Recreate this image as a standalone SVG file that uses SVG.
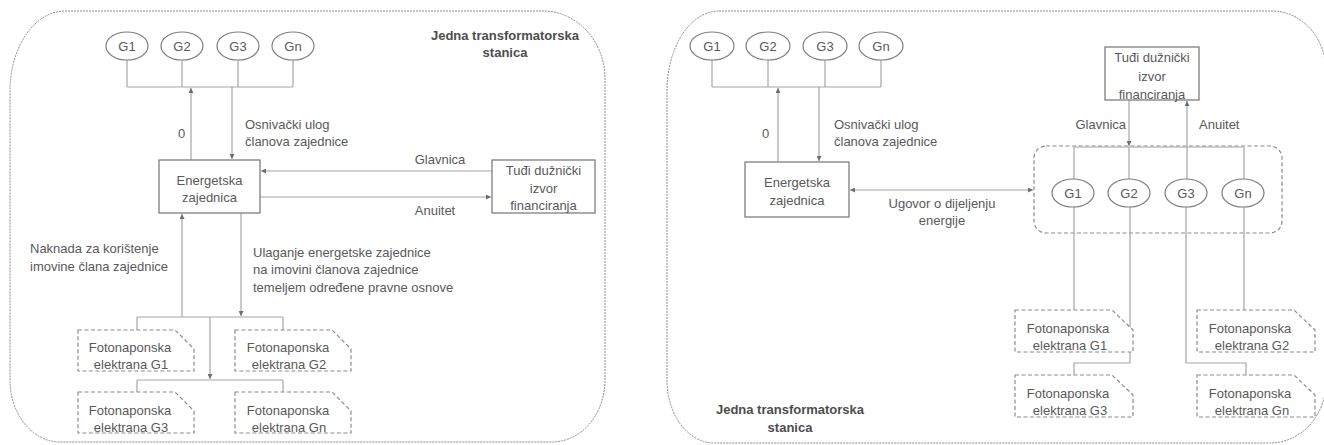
<svg xmlns="http://www.w3.org/2000/svg" width="1324" height="445" viewBox="0 0 1324 445">
  <defs>
    <marker id="arr" viewBox="0 0 5 5" refX="5" refY="2.5" markerWidth="5" markerHeight="5" markerUnits="userSpaceOnUse" orient="auto-start-reverse">
      <path d="M0,0 L5,2.5 L0,5 Z" fill="#6e6e6e"/>
    </marker>
    <style>
      .frame { fill: none; stroke: #8c8c8c; stroke-width: 1; stroke-dasharray: 2 1; }
      .ln { fill: none; stroke: #a6a6a6; stroke-width: 1.2; }
      .ar { fill: none; stroke: #a6a6a6; stroke-width: 1.2; marker-end: url(#arr); }
      .box { fill: #ffffff; stroke: #7f7f7f; stroke-width: 1.3; }
      .ell { fill: #ffffff; stroke: #7f7f7f; stroke-width: 1.2; }
      .fe { fill: #ffffff; stroke: #8c8c8c; stroke-width: 1.2; stroke-dasharray: 4 2.5; }
      .grp { fill: none; stroke: #8c8c8c; stroke-width: 1.2; stroke-dasharray: 4 2.5; }
      text { font-family: "Liberation Sans", Arial, sans-serif; font-size: 13px; fill: #595959; }
      .c { text-anchor: middle; }
      .e { text-anchor: end; }
      .title { font-weight: bold; fill: #4d4d4d; }
    </style>
  </defs>

  <!-- ===== Left panel ===== -->
  <g id="left-frame">
    <path class="frame" d="M65,11 H543 A62,68 0 0 1 605,79 V380 A53,62 0 0 1 552,442 H60 A50,62 0 0 1 10,380 V91 A55,80 0 0 1 65,11 Z"/>
    <text class="c title" x="505" y="40">Jedna transformatorska</text>
    <text class="c title" x="505" y="57">stanica</text>
  </g>

  <g id="left-connectors">
    <path class="ln" d="M127,60 V87 M182,60 V87 M238,60 V87 M293,60 V87 M127,87 H293"/>
    <path class="ar" d="M191,160 V88"/>
    <path class="ar" d="M232,87 V159"/>
    <path class="ar" d="M492,171 H261"/>
    <path class="ar" d="M260,197 H491"/>
    <path class="ar" d="M182,317 V214"/>
    <path class="ar" d="M241,213 V316"/>
    <path class="ln" d="M137,317 H283 M137,317 V330 M283,317 V330"/>
    <path class="ar" d="M210,317 V379"/>
    <path class="ln" d="M137,380 H283 M137,380 V393 M283,380 V393"/>
  </g>

  <g id="left-labels">
    <text x="178" y="138">0</text>
    <text x="245" y="129">Osnivački ulog</text>
    <text x="245" y="146">članova zajednice</text>
    <text class="c" x="440" y="164">Glavnica</text>
    <text class="c" x="435" y="215">Anuitet</text>
    <text x="30" y="253">Naknada za korištenje</text>
    <text x="30" y="271">imovine člana zajednice</text>
    <text x="253" y="257">Ulaganje energetske zajednice</text>
    <text x="253" y="274">na imovini članova zajednice</text>
    <text x="253" y="292">temeljem određene pravne osnove</text>
  </g>

  <g id="left-g1"><ellipse class="ell" cx="127" cy="46" rx="21" ry="14"/><text class="c" x="127" y="51">G1</text></g>
  <g id="left-g2"><ellipse class="ell" cx="182" cy="46" rx="21" ry="14"/><text class="c" x="182" y="51">G2</text></g>
  <g id="left-g3"><ellipse class="ell" cx="238" cy="46" rx="21" ry="14"/><text class="c" x="238" y="51">G3</text></g>
  <g id="left-gn"><ellipse class="ell" cx="293" cy="46" rx="21" ry="14"/><text class="c" x="293" y="51">Gn</text></g>

  <g id="left-ez">
    <rect class="box" x="159" y="160" width="101" height="53"/>
    <text class="c" x="209.5" y="185">Energetska</text>
    <text class="c" x="209.5" y="202">zajednica</text>
  </g>

  <g id="left-debt">
    <rect class="box" x="492" y="160" width="103" height="53"/>
    <text class="c" x="543.5" y="175">Tuđi dužnički</text>
    <text class="c" x="543.5" y="193">izvor</text>
    <text class="c" x="543.5" y="210">financiranja</text>
  </g>

  <g id="left-fe-g1">
    <path class="fe" d="M78,330 H175 L194,349 V371 H78 Z"/>
    <text class="c" x="130" y="352">Fotonaponska</text>
    <text class="c" x="131" y="369">elektrana G1</text>
  </g>
  <g id="left-fe-g2">
    <path class="fe" d="M235,330 H332 L351,349 V371 H235 Z"/>
    <text class="c" x="288" y="352">Fotonaponska</text>
    <text class="c" x="289" y="369">elektrana G2</text>
  </g>
  <g id="left-fe-g3">
    <path class="fe" d="M78,392 H175 L194,411 V433 H78 Z"/>
    <text class="c" x="130" y="415">Fotonaponska</text>
    <text class="c" x="131" y="432">elektrana G3</text>
  </g>
  <g id="left-fe-gn">
    <path class="fe" d="M235,392 H332 L351,411 V433 H235 Z"/>
    <text class="c" x="288" y="415">Fotonaponska</text>
    <text class="c" x="289" y="432">elektrana Gn</text>
  </g>

  <!-- ===== Right panel ===== -->
  <g id="right-frame">
    <path class="frame" d="M719,11 H1272 A54,60 0 0 1 1326,71 V382 A56,61 0 0 1 1270,443 H714 A47,63 0 0 1 667,380 V91 A52,80 0 0 1 719,11 Z"/>
    <text class="c title" x="790" y="414">Jedna transformatorska</text>
    <text class="c title" x="790" y="432">stanica</text>
  </g>

  <g id="right-group">
    <rect class="grp" x="1034" y="146" width="248" height="87" rx="12" ry="12"/>
  </g>

  <g id="right-connectors">
    <path class="ln" d="M712,60 V87 M768,60 V87 M825,60 V87 M881,60 V87 M712,87 H881"/>
    <path class="ar" d="M778,162 V88"/>
    <path class="ar" d="M819,87 V161"/>
    <path class="ar" d="M850,190 H1033" marker-start="url(#arr)"/>
    <path class="ar" d="M1129,100 V146"/>
    <path class="ln" d="M1074,147 H1244 M1074,147 V179 M1129,147 V179 M1244,147 V179"/>
    <path class="ar" d="M1187,179 V101"/>
    <path class="ln" d="M1074,207 V310"/>
    <path class="ln" d="M1130,207 V363 H1074 V375"/>
    <path class="ln" d="M1186,207 V363 H1246 V375"/>
    <path class="ln" d="M1244,207 V310"/>
  </g>

  <g id="right-labels">
    <text x="762" y="138">0</text>
    <text x="834" y="129">Osnivački ulog</text>
    <text x="834" y="146">članova zajednice</text>
    <text class="c" x="942" y="208">Ugovor o dijeljenju</text>
    <text class="c" x="942" y="225">energije</text>
    <text class="e" x="1126" y="129">Glavnica</text>
    <text x="1199" y="129">Anuitet</text>
  </g>

  <g id="right-g1"><ellipse class="ell" cx="712" cy="46" rx="22" ry="14"/><text class="c" x="712" y="51">G1</text></g>
  <g id="right-g2"><ellipse class="ell" cx="768" cy="46" rx="22" ry="14"/><text class="c" x="768" y="51">G2</text></g>
  <g id="right-g3"><ellipse class="ell" cx="825" cy="46" rx="22" ry="14"/><text class="c" x="825" y="51">G3</text></g>
  <g id="right-gn"><ellipse class="ell" cx="881" cy="46" rx="22" ry="14"/><text class="c" x="881" y="51">Gn</text></g>

  <g id="right-ez">
    <rect class="box" x="745" y="162" width="104" height="55"/>
    <text class="c" x="797" y="187">Energetska</text>
    <text class="c" x="797" y="205">zajednica</text>
  </g>

  <g id="right-debt">
    <rect class="box" x="1105" y="47" width="94" height="53"/>
    <text class="c" x="1152" y="62">Tuđi dužnički</text>
    <text class="c" x="1152" y="81">izvor</text>
    <text class="c" x="1152" y="99">financiranja</text>
  </g>

  <g id="right-m-g1"><ellipse class="ell" cx="1073" cy="193" rx="21" ry="14"/><text class="c" x="1073" y="198">G1</text></g>
  <g id="right-m-g2"><ellipse class="ell" cx="1129" cy="193" rx="21" ry="14"/><text class="c" x="1129" y="198">G2</text></g>
  <g id="right-m-g3"><ellipse class="ell" cx="1186" cy="193" rx="21" ry="14"/><text class="c" x="1186" y="198">G3</text></g>
  <g id="right-m-gn"><ellipse class="ell" cx="1243" cy="193" rx="21" ry="14"/><text class="c" x="1243" y="198">Gn</text></g>

  <g id="right-fe-g1">
    <path class="fe" d="M1015,310 H1112 L1133,330 V352 H1015 Z"/>
    <text class="c" x="1068" y="333">Fotonaponska</text>
    <text class="c" x="1070" y="350">elektrana G1</text>
  </g>
  <g id="right-fe-g2">
    <path class="fe" d="M1197,310 H1294 L1315,330 V352 H1197 Z"/>
    <text class="c" x="1250" y="333">Fotonaponska</text>
    <text class="c" x="1252" y="350">elektrana G2</text>
  </g>
  <g id="right-fe-g3">
    <path class="fe" d="M1015,375 H1112 L1133,395 V417 H1015 Z"/>
    <text class="c" x="1068" y="398">Fotonaponska</text>
    <text class="c" x="1070" y="415">elektrana G3</text>
  </g>
  <g id="right-fe-gn">
    <path class="fe" d="M1197,375 H1294 L1315,395 V417 H1197 Z"/>
    <text class="c" x="1250" y="398">Fotonaponska</text>
    <text class="c" x="1252" y="415">elektrana Gn</text>
  </g>
</svg>
